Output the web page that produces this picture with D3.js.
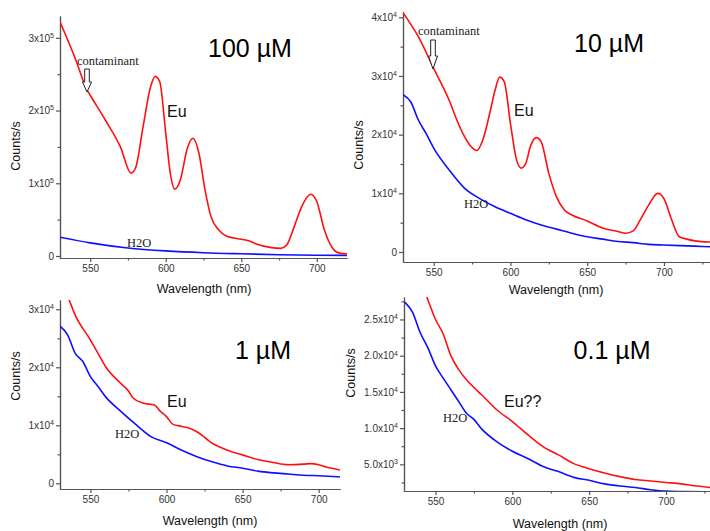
<!DOCTYPE html>
<html>
<head>
<meta charset="utf-8">
<script src="https://cdn.jsdelivr.net/npm/d3@7"></script>
<style>
body { margin: 0; background: #fff; }
svg text { font-family: Arial, "Liberation Sans", sans-serif; }
.axis path, .axis line { stroke: #555; stroke-width: 1.2px; }
.axis text { fill: #333; font-size: 10px; }
.serif { font-family: "Liberation Serif", "Times New Roman", serif !important; }
</style>
</head>
<body>
<div id="plot"></div>
<script>
// ---- data ----
// 100 uM
var wl100Eu  = [530,540,548,550,560,570,577,580,585,590,593,596,600,603,606,610,614,618,622,626,630,635,640,650,655,660,670,676,680,685,690,696,700,705,710,715,720];
var cnt100Eu = [322000,272000,228000,221000,187000,150000,114000,121000,178000,233000,247000,240000,169000,114000,92000,107000,146000,162000,141000,91000,54000,36000,27500,23000,21000,16500,11500,10500,15000,40000,68000,85000,75000,36000,12000,4000,3000];
var wl100H2O  = [530,550,575,600,625,650,675,700,720];
var cnt100H2O = [25700,18000,11000,7000,4500,3000,1800,1000,800];

// 10 uM
var wl10Eu  = [530,540,550,560,566,570,573,578,582,587,590,593,596,600,604,607,610,613,617,620,625,630,635,640,650,660,670,675,680,685,690,696,700,705,710,715,720,730];
var cnt10Eu = [40800,36700,31300,25900,21900,19700,18400,17300,19100,24200,27600,29800,29000,21900,15700,14300,15100,18000,19500,18800,13400,9400,7200,6300,5300,4100,3500,3200,3600,5700,8000,10000,9100,5500,2600,2200,1900,1700];
var wl10H2O  = [530,535,540,545,550,560,570,580,590,600,610,620,630,640,650,660,670,680,690,700,720,730];
var cnt10H2O = [26800,25600,22500,20200,17700,14000,10900,9100,7700,6600,5500,4600,3900,3200,2600,2200,1800,1600,1300,1200,1000,900];

// 1 uM
var wl1Eu  = [530,536,540,550,555,560,570,575,578,585,592,596,600,604,610,615,620,630,640,650,660,670,680,690,695,700,705,714];
var cnt1Eu = [35500,31600,29000,24700,22400,20100,17200,15900,14700,13800,13500,12400,11500,10200,9800,9500,8900,6900,5700,4900,4100,3600,3200,3300,3400,3200,2800,2300];
var wl1H2O  = [530,535,540,545,550,555,560,570,580,590,600,610,620,630,640,650,660,670,680,690,700,714];
var cnt1H2O = [27100,25600,22400,21000,18400,16700,14900,12400,10100,8000,7000,5700,4600,3700,3000,2600,2100,1800,1600,1400,1300,1100];

// 0.1 uM
var wl01Eu  = [530,540,544,550,555,560,565,570,575,580,590,600,610,620,630,640,650,660,670,680,690,700,710,720,729];
var cnt01Eu = [36000,30500,28300,25000,23000,20000,18100,16700,15600,14600,12500,10900,9100,7450,6300,5100,4400,3800,3300,2900,2700,2500,2300,2000,1800];
var wl01H2O  = [530,535,540,545,550,555,560,565,570,575,580,590,600,610,620,630,640,650,660,670,680,690,700,710,729];
var cnt01H2O = [27400,26000,23200,21100,18600,16900,15300,13700,12100,11200,9900,8100,6800,5800,4700,4000,3200,2800,2300,2000,1800,1500,1300,1250,1200];

// tick values
var xMajor = [550,600,650,700];
var xMinor = [575,625,675,725];
var y100Ticks = [0,100000,200000,300000];
var y10Ticks  = [0,10000,20000,30000,40000];
var y1Ticks   = [0,10000,20000,30000];
var y01Ticks  = [5000,10000,15000,20000,25000];

var titles = ["100 \u00b5M","10 \u00b5M","1 \u00b5M","0.1 \u00b5M"];
var euLabels = ["Eu","Eu","Eu","Eu??"];

var zip = function(a, b) { return a.map(function(d, i) { return [d, b[i]]; }); };

// panel frames and annotation spots (pixels)
var panels = [
  {left:60, right:347, top:16, bottom:258, xDom:[530,720], yDom:[-2750,330000], yTicks:y100Ticks, yStep:50000, dec:0,
   red:zip(wl100Eu,cnt100Eu), blue:zip(wl100H2O,cnt100H2O),
   title:[250,57], eu:[167,117], h2o:[127,247], xLab:[204,293], yLab:[20,146],
   cont:{tx:77, ty:65, cx:87, top:69, hb:82, tip:92}},
  {left:403, right:710, top:12, bottom:262, xDom:[530,730], yDom:[-1700,40900], yTicks:y10Ticks, yStep:5000, dec:0,
   red:zip(wl10Eu,cnt10Eu), blue:zip(wl10H2O,cnt10H2O),
   title:[609,52], eu:[514,116], h2o:[464,208], xLab:[556,294], yLab:[363,145],
   cont:{tx:418, ty:35, cx:433, top:40, hb:56, tip:69}},
  {left:60, right:340, top:300, bottom:489, xDom:[530,714], yDom:[-980,31600], yTicks:y1Ticks, yStep:5000, dec:0,
   red:zip(wl1Eu,cnt1Eu), blue:zip(wl1H2O,cnt1H2O),
   title:[263,359], eu:[167,407], h2o:[115,438], xLab:[210,525], yLab:[20,376]},
  {left:404, right:710, top:297, bottom:491, xDom:[529.5,728.6], yDom:[1320,28100], yTicks:y01Ticks, yStep:2500, dec:1,
   red:zip(wl01Eu,cnt01Eu), blue:zip(wl01H2O,cnt01H2O),
   title:[612,359], eu:[504,407], h2o:[443,422], xLab:[560,528], yLab:[355,373]}
];

var svg = d3.select("#plot")
  .append("svg")
  .attr("width", 710)
  .attr("height", 531);

function sciText(sel, dec) {
  sel.selectAll(".tick text").each(function(v) {
    var t = d3.select(this);
    t.text(null);
    if (v === 0) { t.text("0"); return; }
    var e = Math.floor(Math.log10(v) + 1e-9);
    var m = v / Math.pow(10, e);
    t.append("tspan").text(m.toFixed(dec) + "x10");
    t.append("tspan").attr("dy", "-0.55em").attr("font-size", "7px").text(e);
  });
}

panels.forEach(function(p, i) {
  var x = d3.scaleLinear().domain(p.xDom).range([p.left, p.right]);
  var y = d3.scaleLinear().domain(p.yDom).range([p.bottom, p.top]);

  var g = svg.append("g");

  svg.append("clipPath")
    .attr("id", "clip" + i)
    .append("rect")
    .attr("x", p.left).attr("y", p.top)
    .attr("width", p.right - p.left).attr("height", p.bottom - p.top);

  // minor ticks
  var yMin = d3.range(p.yStep, p.yDom[1], p.yStep * 2).filter(function(v) { return v > p.yDom[0]; });
  if (p.dec == 1) yMin = d3.range(2500, p.yDom[1], 5000).filter(function(v) { return v > p.yDom[0]; });

  g.append("g")
    .attr("class", "axis")
    .attr("transform", "translate(0," + p.bottom + ")")
    .call(d3.axisBottom(x).tickValues(xMinor.filter(function(v) { return v <= p.xDom[1]; }))
      .tickSize(2.5).tickSizeOuter(0).tickFormat(""));

  g.append("g")
    .attr("class", "axis")
    .attr("transform", "translate(" + p.left + ",0)")
    .call(d3.axisLeft(y).tickValues(yMin).tickSize(2.5).tickSizeOuter(0).tickFormat(""));

  // major axes
  g.append("g")
    .attr("class", "axis")
    .attr("transform", "translate(0," + p.bottom + ")")
    .call(d3.axisBottom(x).tickValues(xMajor).tickSize(4).tickPadding(3).tickSizeOuter(0));

  g.append("g")
    .attr("class", "axis")
    .attr("transform", "translate(" + p.left + ",0)")
    .call(d3.axisLeft(y).tickValues(p.yTicks).tickSize(4).tickPadding(2).tickSizeOuter(0))
    .call(sciText, p.dec);

  // spectra
  var line = d3.line()
    .x(function(d) { return x(d[0]); })
    .y(function(d) { return y(d[1]); })
    .curve(d3.curveMonotoneX);

  g.append("path")
    .datum(p.blue)
    .attr("clip-path", "url(#clip" + i + ")")
    .attr("fill", "none")
    .attr("stroke", "#1010ff")
    .attr("stroke-width", 1.6)
    .attr("d", line);

  g.append("path")
    .datum(p.red)
    .attr("clip-path", "url(#clip" + i + ")")
    .attr("fill", "none")
    .attr("stroke", "#ff1010")
    .attr("stroke-width", 1.6)
    .attr("d", line);

  // axis titles
  g.append("text")
    .attr("x", p.xLab[0]).attr("y", p.xLab[1])
    .attr("text-anchor", "middle")
    .attr("font-size", "12.5px")
    .attr("fill", "#111")
    .text("Wavelength (nm)");

  g.append("text")
    .attr("transform", "translate(" + p.yLab[0] + "," + p.yLab[1] + ") rotate(-90)")
    .attr("text-anchor", "middle")
    .attr("font-size", "12.5px")
    .attr("fill", "#111")
    .text("Counts/s");

  // labels
  g.append("text")
    .attr("x", p.title[0]).attr("y", p.title[1])
    .attr("text-anchor", "middle")
    .attr("font-size", "25px")
    .attr("fill", "#000")
    .text(titles[i]);

  g.append("text")
    .attr("x", p.eu[0]).attr("y", p.eu[1])
    .attr("font-size", "16px")
    .attr("fill", "#111")
    .text(euLabels[i]);

  g.append("text")
    .attr("class", "serif")
    .attr("x", p.h2o[0]).attr("y", p.h2o[1])
    .attr("font-size", "12.5px")
    .attr("fill", "#222")
    .text("H2O");

  if (p.cont) {
    var c = p.cont;
    g.append("text")
      .attr("class", "serif")
      .attr("x", c.tx).attr("y", c.ty)
      .attr("font-size", "12.5px")
      .attr("fill", "#222")
      .text("contaminant");

    g.append("path")
      .attr("d", "M" + (c.cx - 2.3) + "," + c.top + "L" + (c.cx + 2.3) + "," + c.top +
                 "L" + (c.cx + 2.3) + "," + c.hb + "L" + (c.cx + 4.5) + "," + c.hb +
                 "L" + c.cx + "," + c.tip + "L" + (c.cx - 4.5) + "," + c.hb +
                 "L" + (c.cx - 2.3) + "," + c.hb + "Z")
      .attr("fill", "#fff")
      .attr("stroke", "#222")
      .attr("stroke-width", 1);
  }
});
</script>
</body>
</html>
